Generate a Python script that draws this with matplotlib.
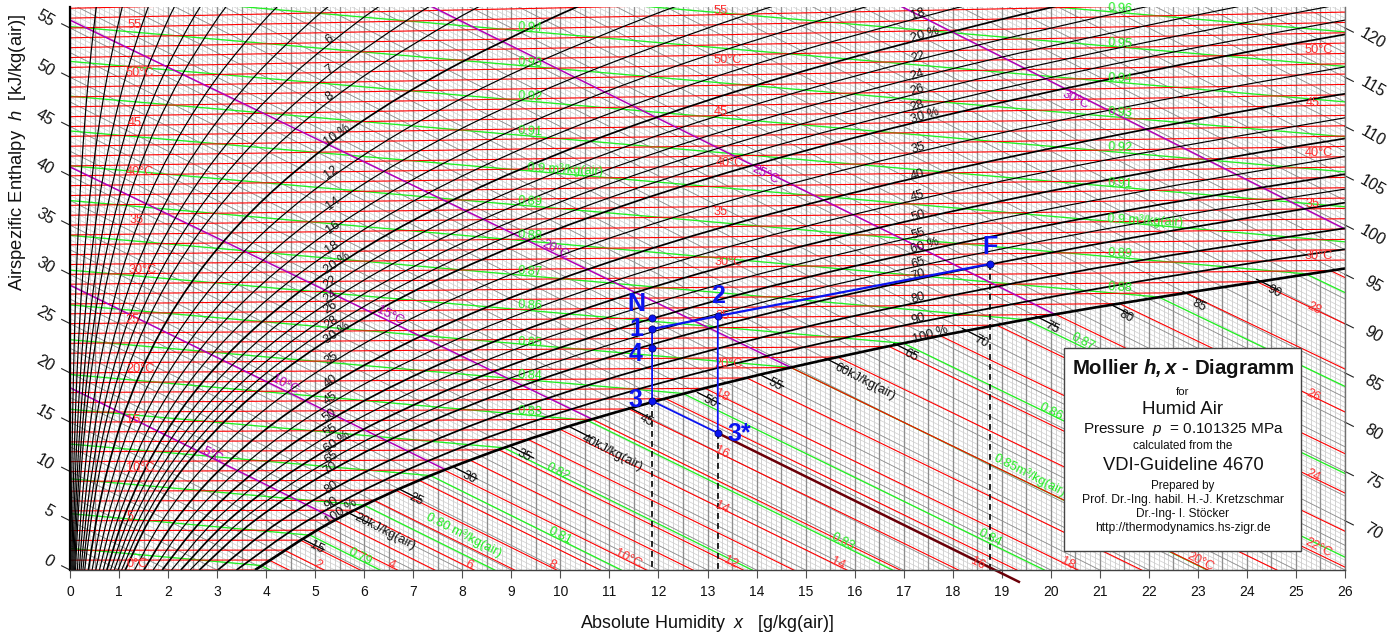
import numpy as np
import matplotlib
matplotlib.use("Agg")
import matplotlib.pyplot as plt
from matplotlib.path import Path
from matplotlib.patches import PathPatch, Rectangle
from matplotlib.transforms import Affine2D

plt.rcParams.update({
    'font.family': ['Liberation Sans', 'DejaVu Sans'],
    'mathtext.fontset': 'custom',
    'mathtext.rm': 'Liberation Sans',
    'mathtext.it': 'Liberation Sans:italic',
    'mathtext.bf': 'Liberation Sans:bold',
    'mathtext.bfit': 'Liberation Sans:italic:bold',
})

# ---------- data ----------
x_ticks = list(range(0, 27))
h_left_ticks = [0, 5, 10, 15, 20, 25, 30, 35, 40, 45, 50, 55]
h_right_ticks = [70, 75, 80, 85, 90, 95, 100, 105, 110, 115, 120]

# skew of the chart's ordinate
H_SKEW = 2.5          # ordinate drop per g/kg along a line of constant enthalpy
T_SKEW = 0.00186      # isotherm rise per g/kg and degC
FOG_T_SLOPE = 0.00419 # fog isotherm slope gain per degC

# relative humidity curves: x [g/kg] at each temperature of rh_temps
rh_temps = [0, 5, 10, 15, 20, 25, 30, 35, 40, 45, 50, 55, 58]
rh_0_5 = [.019, .027, .038, .052, .072, .097, .130, .173, .227, .295, .380, .486, .561]
rh_1 = [.038, .054, .075, .105, .144, .195, .261, .346, .454, .590, .759, .969, 1.117]
rh_1_5 = [.056, .080, .113, .157, .215, .292, .391, .518, .680, .884, 1.139, 1.454, 1.678]
rh_2 = [.075, .107, .151, .209, .287, .389, .521, .692, .908, 1.18, 1.52, 1.941, 2.239]
rh_2_5 = [.094, .134, .188, .262, .359, .487, .652, .865, 1.135, 1.476, 1.901, 2.428, 2.80]
rh_3 = [.113, .161, .226, .314, .431, .585, .783, 1.038, 1.363, 1.772, 2.283, 2.916, 3.365]
rh_4 = [.150, .214, .302, .419, .575, .780, 1.045, 1.385, 1.818, 2.365, 3.048, 3.894, 4.494]
rh_5 = [.188, .268, .377, .524, .720, .977, 1.306, 1.732, 2.275, 2.959, 3.814, 4.875, 5.628]
rh_6 = [.225, .321, .452, .629, .863, 1.169, 1.568, 2.08, 2.732, 3.553, 4.583, 5.86, 6.766]
rh_7 = [.263, .375, .528, .734, 1.007, 1.365, 1.83, 2.428, 3.189, 4.15, 5.353, 6.848, 7.908]
rh_8 = [.30, .429, .604, .838, 1.151, 1.56, 2.093, 2.776, 3.647, 4.747, 6.125, 7.838, 9.053]
rh_10 = [.376, .536, .756, 1.049, 1.439, 1.952, 2.618, 3.474, 4.566, 5.946, 7.675, 9.828, 11.36]
rh_12 = [.451, .643, .906, 1.258, 1.728, 2.344, 3.144, 4.174, 5.488, 7.148, 9.233, 11.83, 13.68]
rh_14 = [.526, .751, 1.058, 1.469, 2.016, 2.736, 3.672, 4.875, 6.411, 8.355, 10.8, 13.85, 16.02]
rh_16 = [.601, .858, 1.209, 1.68, 2.306, 3.129, 4.199, 5.578, 7.339, 9.567, 12.37, 15.87, 18.37]
rh_18 = [.676, .966, 1.36, 1.89, 2.596, 3.522, 4.729, 6.282, 8.268, 10.78, 13.95, 17.92, 20.75]
rh_20 = [.752, 1.073, 1.511, 2.10, 2.885, 3.916, 5.258, 6.987, 9.20, 12.01, 15.54, 19.97, 23.14]
rh_22 = [.827, 1.18, 1.662, 2.31, 3.175, 4.31, 5.788, 7.694, 10.14, 13.23, 17.14, 22.04, 25.55]
rh_24 = [.902, 1.288, 1.814, 2.522, 3.465, 4.705, 6.321, 8.404, 11.07, 14.46, 18.74, 24.12, 27.97]
rh_26 = [.977, 1.395, 1.965, 2.733, 3.755, 5.10, 6.853, 9.114, 12.01, 15.70, 20.36, 26.21, 30.4]
rh_28 = [1.053, 1.503, 2.116, 2.945, 4.047, 5.495, 7.387, 9.827, 12.96, 16.94, 21.98, 28.32]
rh_30 = [1.128, 1.61, 2.268, 3.156, 4.338, 5.892, 7.92, 10.54, 13.90, 18.18, 23.61, 30.4]
rh_35 = [1.316, 1.879, 2.65, 3.685, 5.067, 6.885, 9.261, 12.33, 16.28, 21.32, 27.72]
rh_40 = [1.505, 2.149, 3.03, 4.215, 5.797, 7.881, 10.61, 14.13, 18.68, 24.48, 31.9]
rh_45 = [1.695, 2.418, 3.41, 4.746, 6.53, 8.88, 11.96, 15.95, 21.09, 27.68]
rh_50 = [1.88, 2.689, 3.793, 5.278, 7.264, 9.883, 13.31, 17.77, 23.52, 30.9]
rh_55 = [2.07, 2.958, 4.174, 5.81, 8.0, 10.89, 14.68, 19.6, 25.97, 34.0]
rh_60 = [2.259, 3.229, 4.556, 6.344, 8.736, 11.9, 16.05, 21.45, 28.44]
rh_65 = [2.448, 3.499, 4.939, 6.879, 9.475, 12.91, 17.42, 23.3, 30.9]
rh_70 = [2.637, 3.77, 5.322, 7.414, 10.22, 13.92, 18.8, 25.17, 33.5]
rh_80 = [3.014, 4.312, 6.09, 8.488, 11.70, 15.96, 21.58, 28.93]
rh_90 = [3.395, 4.856, 6.86, 9.565, 13.2, 18.02, 24.38, 32.76]
rh_100 = [3.774, 5.4, 7.632, 10.645, 14.698, 20.08, 27.21]
rh_curves = [rh_0_5, rh_1, rh_1_5, rh_2, rh_2_5, rh_3, rh_4, rh_5, rh_6, rh_7, rh_8,
             rh_10, rh_12, rh_14, rh_16, rh_18, rh_20, rh_22, rh_24, rh_26, rh_28, rh_30,
             rh_35, rh_40, rh_45, rh_50, rh_55, rh_60, rh_65, rh_70, rh_80, rh_90, rh_100]
rh_levels = [.5, 1, 1.5, 2, 2.5, 3, 4, 5, 6, 7, 8, 10, 12, 14, 16, 18, 20, 22, 24, 26, 28, 30,
             35, 40, 45, 50, 55, 60, 65, 70, 80, 90, 100]

# isotherms: every degree; saturation humidity for degrees 0..30
isotherm_t = list(range(0, 58))
sat_x = [3.77, 4.06, 4.37, 4.70, 5.05, 5.40, 5.79, 6.20, 6.64, 7.11, 7.63, 8.15, 8.75, 9.35, 10.0,
         10.65, 11.40, 12.15, 12.95, 13.80, 14.70, 15.65, 16.70, 17.75, 18.90, 20.10, 21.40,
         22.75, 24.20, 25.70, 27.30]

# specific volume lines: ordinate at x=0, end of the unsaturated part, end in the fog
green_v = [.78, .79, .80, .81, .82, .83, .84, .85, .86, .87, .88, .89, .90, .91, .92, .93, .94, .95, .96]
green_start = [2.19, 5.72, 9.25, 12.78, 16.31, 19.84, 23.37, 26.9, 30.43, 33.96, 37.49, 41.02,
               44.55, 48.08, 51.61, 55.14, 58.67, 62.2, 65.73]
green_kink_x = [3.9, 4.9, 6.0, 7.35, 8.85, 10.55, 12.5, 14.7, 17.0, 19.5, 22.2, 25.2,
                26, 26, 26, 26, 26, 26, 26]
green_kink_y = [.45, 3.53, 6.57, 9.58, 12.4, 15.19, 17.91, 20.55, 23.0, 25.39, 27.7, 30.05,
                33.3, 36.86, 40.4, 43.96, 47.5, 51.1, 54.6]
green_fog_x = [4.08, 6.32, 8.66, 11.24, 13.91, 16.77, 19.87, 23.19, 26.54, 30.08, 33.8, 37.83]

# wet-bulb (magenta) lines
wb_start = [18.5, 28.9, 40.9, 55.8, 75.3, 99.5]
wb_end_x = [5.4, 7.65, 10.65, 14.7, 20.1, 26.0]
wb_end_y = [5.2, 10.2, 15.3, 20.55, 25.9, 34.6]

# enthalpy lines with a black piece next to the saturation curve
h_fog_levels = [15, 20, 25, 30, 35, 40, 45, 50, 55, 60, 65, 70, 75, 80, 85, 90]
h_fog_sat = [4.73, 5.65, 6.7, 7.85, 9.0, 10.2, 11.4, 12.8, 14.1, 15.4, 16.8, 18.2, 19.7, 21.2, 22.7, 24.2]

# process of the air handling example
proc_names = ['N', '1', '4', '3', '2', '3*', 'F']
proc_x = [11.87, 11.87, 11.87, 11.87, 13.21, 13.21, 18.76]
proc_y = [25.6, 24.45, 22.5, 17.15, 25.77, 13.9, 31.05]
proc_tail_x = 19.35
proc_tail_y = -1.2

# annotation texts
red_labels = ['55', '50°C', '45', '40°C', '35', '30°C', '25', '20°C', '15', '10°C', '5', '0°C',
              '55', '50°C', '45', '40°C', '35', '30°C', '25', '20°C',
              '50°C', '45', '40°C', '35', '30°C']
red_label_px = [(135, 25), (140, 73), (135, 123), (140, 172), (137, 220), (143, 270), (133, 320),
                (141, 369), (133, 420), (140, 468), (130, 517), (137, 564),
                (721, 11), (728, 60), (721, 112), (730, 163), (721, 212), (729, 262), (722, 316), (729, 364),
                (1319, 50), (1313, 103), (1319, 153), (1313, 204), (1319, 256)]
red_fog_labels = ['2', '4', '6', '8', '10°C', '12', '14', '16', '18', '20°C', '22°C', '24', '26', '28', '18', '16', '14']
red_fog_px = [(318, 565), (391, 565), (469, 565), (552, 565), (628, 559), (731, 563), (838, 564), (978, 564),
              (1068, 564), (1200, 562), (1318, 548), (1313, 476), (1313, 396), (1314, 309),
              (722, 396), (722, 453), (722, 508)]
green_labels = ['0.94', '0.93', '0.92', '0.91', '0.9 m³/kg(air)', '0.89', '0.88', '0.87', '0.86', '0.85', '0.84', '0.83',
                '0.96', '0.95', '0.94', '0.93', '0.92', '0.91', '0.9 m³/kg(air)', '0.89', '0.88']
green_label_px = [(530, 28), (530, 63), (530, 97), (530, 132), (565, 170), (530, 202), (530, 236), (530, 272),
                  (530, 306), (530, 343), (530, 376), (530, 412),
                  (1120, 9), (1120, 44), (1120, 79), (1120, 113), (1120, 148), (1120, 184), (1145, 221), (1120, 254), (1120, 288)]
green_fog_labels = ['0.79', '0.80 m³/kg(air)', '0.81', '0.82', '0.83', '0.84', '0.85m³/kg(air)', '0.86', '0.87']
green_fog_px = [(360, 557), (464, 535), (560, 536), (558, 472), (843, 542), (990, 538), (1030, 475), (1051, 412), (1083, 342)]
wb_labels = ['5°C', '10°C', '15°C', '20°C', '25°C', '30°C']
wb_label_px = [(212, 455), (285, 385), (390, 316), (555, 250), (765, 175), (1075, 100)]
rh_labels_left = ['6', '7', '8', '10 %', '12', '14', '16', '18', '20 %', '22', '24', '26', '28', '30 %', '35', '40',
                  '45', '50', '55', '60 %', '65', '70', '80', '90', '100 %']
rh_left_px = [(330, 40), (330, 69), (330, 97), (337, 135), (331, 172), (333, 203), (333, 227), (332, 247), (337, 263),
              (330, 282), (330, 296), (330, 307), (331, 322), (337, 333), (332, 358), (331, 381), (331, 398), (330, 415),
              (331, 430), (337, 442), (331, 457), (330, 468), (332, 487), (331, 503), (341, 512)]
rh_labels_right = ['18', '20 %', '22', '24', '26', '28', '30 %', '35', '40', '45', '50', '55', '60 %', '65', '70', '80', '90', '100 %']
rh_right_px = [(918, 14), (925, 35), (918, 57), (917, 75), (917, 90), (917, 106), (925, 116), (918, 148), (918, 175),
               (918, 196), (918, 216), (918, 234), (925, 246), (918, 263), (918, 275), (918, 298), (918, 319), (930, 335)]
h_labels = ['15', '20kJ/kg(air)', '25', '30', '35', '40kJ/kg(air)', '45', '50', '55', '60kJ/kg(air)', '65', '70', '75', '80', '85', '90']
h_label_px = [(317, 548), (385, 532), (416, 500), (469, 478), (524, 456), (612, 453), (646, 421), (710, 402), (775, 385),
              (865, 382), (911, 356), (981, 342), (1052, 328), (1126, 317), (1199, 306), (1274, 292)]
proc_label_px = [(636, 304), (636, 329), (636, 354), (635, 400), (718, 296), (739, 434), (990, 247)]

box_lines = [r'Mollier $\mathbfit{h,x}$ - Diagramm', 'for', 'Humid Air', r'Pressure  $p$  = 0.101325 MPa',
             'calculated from the', 'VDI-Guideline 4670', 'Prepared by', 'Prof. Dr.-Ing. habil. H.-J. Kretzschmar',
             'Dr.-Ing- I. Stöcker', 'http://thermodynamics.hs-zigr.de']
box_line_py = [369, 392, 409, 430, 446, 466, 486, 500, 514, 528]
box_line_size = [14.7, 8.2, 13.5, 11, 8.5, 13.2, 8.4, 8.7, 8.6, 8.7]

# ---------- helpers ----------
def h_y(h, x):
    return h - H_SKEW * np.asarray(x, float)

def t_y(t, x):
    return np.asarray(t, float) * (1 + T_SKEW * np.asarray(x, float))

def smooth_patch(xs, ys, lw, color, z):
    """Catmull-Rom Bezier through the given points."""
    p = np.column_stack([xs, ys])
    verts, codes = [p[0]], [Path.MOVETO]
    for i in range(len(p) - 1):
        p0 = p[i - 1] if i > 0 else p[i]
        p3 = p[i + 2] if i + 2 < len(p) else p[i + 1]
        verts += [p[i] + (p[i + 1] - p0) / 6, p[i + 1] - (p3 - p[i]) / 6, p[i + 1]]
        codes += [Path.CURVE4] * 3
    return PathPatch(Path(verts, codes), fill=False, lw=lw, edgecolor=color, zorder=z, capstyle='butt')

# ---------- figure ----------
W, H = 1395, 636
fig = plt.figure(figsize=(W / 100, H / 100), dpi=100)
ax = fig.add_axes([70 / W, (H - 570) / H, 1275 / W, 563 / H])
ax.set_xlim(0, 26)
ax.set_ylim(0, 563 / 9.855)
px = Affine2D().scale(1, -1).translate(0, H)

# fine grid
for v in np.arange(0, 26.01, 0.1):
    major = abs(v * 2 - round(v * 2)) < 1e-6
    ax.axvline(v, color='#8f8f8f' if major else '#cccccc', lw=0.95 if major else 0.6, zorder=1 if not major else 2)
hs = np.arange(-5, 125.01, 0.5)
for h in hs:
    dark = abs(h / 2.5 - round(h / 2.5)) < 1e-6
    ax.plot([0, 26], [h_y(h, 0), h_y(h, 26)], color='#8e8e8e' if dark else '#d0d0d0',
            lw=0.65 if dark else 0.55, zorder=2 if dark else 1)

# black pieces of the enthalpy lines near saturation
for h, xs in zip(h_fog_levels, h_fog_sat):
    ax.plot([xs, xs + 0.45], [h_y(h, xs), h_y(h, xs + 0.45)], color='black', lw=0.9, zorder=3)

# isotherms
for t in isotherm_t:
    if t < len(sat_x) - 1:
        xs = sat_x[t]
        ys = t_y(t, xs)
        xe = 40.0
        ax.plot([0, xs, xe], [t, ys, ys + (FOG_T_SLOPE * t - H_SKEW) * (xe - xs)], color='#ff0000', lw=0.8, zorder=4)
    else:
        ax.plot([0, 26], [t, t_y(t, 26)], color='#ff0000', lw=0.8, zorder=4)

# specific volume
for i, v in enumerate(green_v):
    xs = [0, green_kink_x[i]]
    ys = [green_start[i], green_kink_y[i]]
    if i < len(green_fog_x):
        xs.append(green_fog_x[i])
        ys.append(0)
    ax.plot(xs, ys, color='#22ee22', lw=0.95, zorder=3.5)

# wet-bulb
for s, xe, ye in zip(wb_start, wb_end_x, wb_end_y):
    ax.plot([0, xe], [s, ye], color='#b000b8', lw=1.1, zorder=5)

# relative humidity
for lev, row in zip(rh_levels, rh_curves):
    t = rh_temps[:len(row)]
    y = t_y(t, row)
    lw = 1.9 if lev == 100 else (1.25 if lev % 10 == 0 else 0.85)
    ax.add_patch(smooth_patch(row, y, lw, 'black', 6))

# process
ax.plot([proc_x[3], proc_x[3]], [proc_y[3], 0], color='black', lw=1.2, ls=(0, (3.5, 2.5)), zorder=7)
ax.plot([proc_x[5], proc_x[5]], [proc_y[5], 0], color='black', lw=1.2, ls=(0, (3.5, 2.5)), zorder=7)
ax.plot([proc_x[6], proc_x[6]], [proc_y[6], 0], color='black', lw=1.2, ls=(0, (3.5, 2.5)), zorder=7)
ax.plot([proc_x[5], proc_tail_x], [proc_y[5], proc_tail_y], color='#6b0008', lw=1.8, zorder=7, clip_on=False)
blue = '#0a14f0'
ax.plot([proc_x[1], proc_x[4], proc_x[6]], [proc_y[1], proc_y[4], proc_y[6]], color=blue, lw=1.6, zorder=8)
ax.plot([proc_x[1], proc_x[3], proc_x[5], proc_x[4]], [proc_y[1], proc_y[3], proc_y[5], proc_y[4]], color=blue, lw=1.3, zorder=8)
ax.plot(proc_x, proc_y, ls='none', marker='o', ms=5.2, color=blue, mec='#000060', mew=0.5, zorder=9)
for name, p in zip(proc_names, proc_label_px):
    ax.text(p[0], p[1], name, transform=px, color=blue, fontsize=18, fontweight='bold', ha='center', va='center', zorder=10)

# texts on the curves
def put(labels, pos, color, size, rot):
    for s, p in zip(labels, pos):
        ax.text(p[0], p[1], s, transform=px, color=color, fontsize=size, rotation=rot, rotation_mode='anchor',
                ha='center', va='center', zorder=7)

put(red_labels, red_label_px, '#ff3030', 9.2, 0)
put(red_fog_labels, red_fog_px, '#ff3030', 9.2, -27)
put(green_labels, green_label_px, '#22ee22', 9.2, -3)
put(green_fog_labels, green_fog_px, '#22ee22', 9.2, -27)
put(wb_labels, wb_label_px, '#b000b8', 9.2, -27)
put(rh_labels_left, rh_left_px, '#111111', 9.2, 35)
put(rh_labels_right, rh_right_px, '#111111', 9.2, 17)
put(h_labels, h_label_px, '#111111', 9.2, -27)

# info box
ax.add_patch(Rectangle((1064, 348), 237, 203, transform=px, facecolor='white', edgecolor='#444444', lw=1.0, zorder=12))
for s, py, sz in zip(box_lines, box_line_py, box_line_size):
    ax.text(1183, py, s, transform=px, ha='center', va='center', fontsize=sz, color='#111111',
            fontweight='bold' if py == box_line_py[0] else 'normal', zorder=13)

# axes furniture
for side in ['top']:
    ax.spines[side].set_visible(False)
ax.spines['left'].set_linewidth(1.6)
ax.spines['left'].set_color('black')
ax.spines['right'].set_color('#707070')
ax.spines['right'].set_linewidth(1.0)
ax.spines['bottom'].set_color('#404040')
ax.spines['bottom'].set_linewidth(1.0)
for s in ax.spines.values():
    s.set_zorder(11)
ax.set_xticks(x_ticks)
ax.set_yticks([])
ax.tick_params(axis='x', length=5.5, width=0.8, color='#505050', labelsize=10, pad=5, labelcolor='#111111')

dx = 0.17
for h in h_left_ticks:
    ax.plot([0, -dx], [h_y(h, 0), h_y(h, -dx)], color='#222222', lw=0.8, clip_on=False, zorder=11)
    ax.annotate(str(h), (0, h_y(h, 0)), xytext=(-18 if h > 5 else -15.5, 6.5), textcoords='offset points', fontsize=11.5,
                rotation=-30, ha='center', va='center', color='#111111')
for h in h_right_ticks:
    ax.plot([26, 26 + dx], [h_y(h, 26), h_y(h, 26 + dx)], color='#222222', lw=0.8, clip_on=False, zorder=11)
    ax.annotate(str(h), (26, h_y(h, 26)), xytext=(20, -7.5), textcoords='offset points', fontsize=11.5,
                rotation=-30, ha='center', va='center', color='#111111')

fig.text(18 / W, 1 - 152 / H, r'Airspezific Enthalpy  $h$  [kJ/kg(air)]', rotation=90, fontsize=13.2, ha='center', va='center', color='#111111')
fig.text(707 / W, 1 - 623 / H, r'Absolute Humidity  $x$   [g/kg(air)]', fontsize=12.9, ha='center', va='center', color='#111111')

fig.savefig('out.png', dpi=100, facecolor='white')
